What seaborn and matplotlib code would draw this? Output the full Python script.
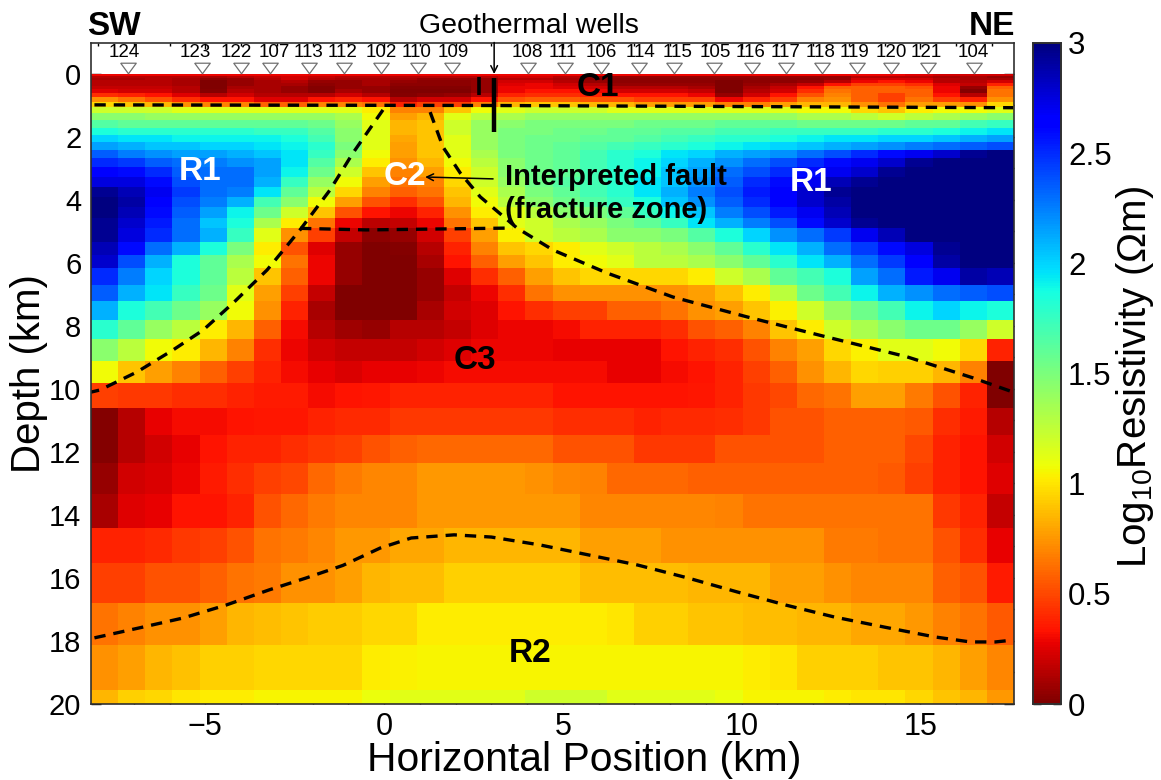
import matplotlib
matplotlib.use("Agg")
import matplotlib.pyplot as plt
from matplotlib.ticker import MultipleLocator, ScalarFormatter
from matplotlib.transforms import Affine2D
import seaborn as sns
import numpy as np
import pandas as pd

# depth of the model cell edges (km)
depth_edges = [0, .06, .13, .19, .29, .38, .48, .60, .73, .89, 1.05, 1.24, 1.46, 1.71, 1.94,
               2.16, 2.41, 2.67, 2.95, 3.27, 3.59, 3.90, 4.22, 4.57, 4.89, 5.33, 5.75, 6.16,
               6.70, 7.21, 7.81, 8.41, 9.11, 9.81, 10.60, 11.46, 12.35, 13.33, 14.41, 15.52,
               16.79, 18.13, 19.56, 20]
x_left = -8.196
x_right = 17.62

# log10 resistivity, one row per depth cell, 34 columns from SW to NE
log_res = [
    [.29]*30 + [.25, .22, .22, .22],
    [.15, .15, .15, .15, .11, .15, .18, .22, .18, .15, .15, .15, .15, .15, .15, .22, .22, .15, .07, .07, .07, .07, .07, .07, .07, .07, .07, .07, .15, .15, .15, .11, .11, .07],
    [.11, .11, .15, .11, .04, .07, .15, .22, .15, .11, .11, .11, .07, .07, .07, .15, .15, .11, .04, .04, .04, .04, .04, .04, .04, .04, .04, .07, .22, .22, .22, .15, .11, .11],
    [.15, .15, .15, .11, 0, .07, .11, .15, .07, .07, .11, .07, .04, .04, .07, .22, .22, .15, .07, .04, .04, .04, .04, 0, .04, .04, .07, .15, .29, .33, .29, .15, .15, .22],
    [.15, .15, .15, .11, 0, .07, .11, .11, .04, .07, .11, .04, .04, .04, .07, .25, .29, .22, .15, .07, .07, .07, .07, 0, .07, .11, .18, .33, .48, .48, .42, .25, .18, .38],
    [.18, .18, .18, .15, 0, .11, .11, .07, .02, .07, .07, .02, .02, .02, .07, .29, .29, .25, .22, .15, .15, .15, .11, 0, .11, .18, .33, .58, .58, .58, .53, .29, .07, .58],
    [.25, .22, .22, .15, .02, .15, .11, .07, .02, .11, .07, 0, 0, 0, .07, .29, .33, .33, .29, .22, .22, .22, .18, 0, .15, .22, .42, .64, .58, .58, .58, .29, .02, .64],
    [.42, .38, .33, .25, .15, .22, .15, .15, .15, .22, .15, .02, .04, .07, .15, .38, .42, .42, .38, .33, .33, .33, .29, .07, .22, .33, .53, .68, .58, .48, .58, .33, .15, .64],
    [.73, .64, .53, .42, .33, .33, .25, .25, .33, .38, .33, .15, .22, .22, .33, .53, .58, .58, .53, .53, .48, .48, .48, .29, .38, .48, .68, .73, .58, .48, .64, .48, .38, .73],
    [.96, .9, .85, .73, .68, .68, .58, .58, .68, .68, .64, .38, .48, .48, .68, .85, .9, .9, .85, .85, .78, .78, .78, .68, .68, .78, .85, .85, .73, .64, .78, .78, .73, .96],
    [1.2, 1.2, 1.2, 1.13, 1.13, 1.13, 1.13, 1.13, 1.13, 1.13, 1.02, .68, .68, .9, 1.07, 1.13, 1.2, 1.2, 1.2, 1.13, 1.13, 1.13, 1.13, 1.13, 1.13, 1.13, 1.07, 1.07, .96, .9, 1.02, 1.07, 1.07, 1.13],
    [1.45, 1.45, 1.4, 1.4, 1.4, 1.4, 1.4, 1.4, 1.4, 1.33, 1.07, .78, .85, 1.13, 1.27, 1.33, 1.4, 1.4, 1.4, 1.4, 1.4, 1.4, 1.4, 1.4, 1.4, 1.4, 1.33, 1.33, 1.27, 1.2, 1.27, 1.33, 1.4, 1.45],
    [1.65, 1.6, 1.6, 1.6, 1.6, 1.6, 1.6, 1.6, 1.55, 1.4, 1.13, .85, .9, 1.2, 1.4, 1.45, 1.5, 1.5, 1.5, 1.5, 1.55, 1.55, 1.55, 1.6, 1.6, 1.6, 1.55, 1.55, 1.55, 1.55, 1.6, 1.6, 1.7, 1.75],
    [1.85, 1.8, 1.8, 1.8, 1.8, 1.8, 1.75, 1.75, 1.65, 1.45, 1.13, .85, .9, 1.2, 1.4, 1.5, 1.5, 1.55, 1.55, 1.6, 1.6, 1.65, 1.65, 1.7, 1.7, 1.75, 1.75, 1.75, 1.75, 1.8, 1.8, 1.85, 1.9, 1.95],
    [2.0, 1.95, 1.95, 1.9, 1.9, 1.9, 1.9, 1.85, 1.7, 1.45, 1.13, .8, .9, 1.13, 1.4, 1.5, 1.55, 1.55, 1.6, 1.6, 1.65, 1.7, 1.75, 1.8, 1.8, 1.85, 1.9, 1.95, 1.95, 2.0, 2.0, 2.05, 2.1, 2.15],
    [2.15, 2.1, 2.05, 2.05, 2.0, 2.0, 1.95, 1.9, 1.8, 1.5, 1.13, .78, .9, 1.13, 1.4, 1.5, 1.55, 1.6, 1.65, 1.7, 1.75, 1.8, 1.85, 1.9, 1.95, 2.0, 2.05, 2.1, 2.15, 2.2, 2.25, 2.3, 2.35, 2.4],
    [2.35, 2.25, 2.2, 2.15, 2.15, 2.1, 2.05, 1.95, 1.75, 1.45, 1.07, .78, .9, 1.13, 1.33, 1.5, 1.55, 1.6, 1.7, 1.8, 1.85, 1.95, 2.0, 2.1, 2.15, 2.2, 2.3, 2.4, 2.5, 2.6, 2.7, 2.8, 2.95, 3],
    [2.5, 2.45, 2.35, 2.3, 2.25, 2.2, 2.15, 1.95, 1.65, 1.33, 1.02, .73, .85, 1.07, 1.27, 1.45, 1.55, 1.6, 1.7, 1.8, 1.9, 2.0, 2.1, 2.2, 2.3, 2.4, 2.5, 2.6, 2.7, 2.8, 2.95, 3, 3, 3],
    [2.65, 2.6, 2.5, 2.35, 2.3, 2.3, 2.15, 1.9, 1.55, 1.2, .9, .68, .78, 1.02, 1.2, 1.45, 1.55, 1.6, 1.7, 1.8, 1.9, 2.05, 2.15, 2.3, 2.4, 2.5, 2.6, 2.7, 2.8, 2.95, 3, 3, 3, 3],
    [2.75, 2.75, 2.6, 2.4, 2.3, 2.3, 2.1, 1.75, 1.4, 1.07, .78, .64, .68, .96, 1.2, 1.4, 1.55, 1.65, 1.7, 1.8, 1.95, 2.05, 2.2, 2.35, 2.5, 2.6, 2.7, 2.85, 2.95, 3, 3, 3, 3, 3],
    [2.95, 2.85, 2.7, 2.45, 2.3, 2.25, 1.95, 1.6, 1.27, .96, .68, .58, .64, .9, 1.13, 1.33, 1.5, 1.6, 1.7, 1.8, 1.95, 2.1, 2.25, 2.4, 2.55, 2.65, 2.8, 2.95, 3, 3, 3, 3, 3, 3],
    [3, 2.9, 2.65, 2.4, 2.25, 2.1, 1.7, 1.45, 1.07, .78, .53, .42, .53, .85, 1.07, 1.27, 1.45, 1.55, 1.65, 1.75, 1.85, 2.05, 2.2, 2.35, 2.5, 2.65, 2.8, 2.9, 3, 3, 3, 3, 3, 3],
    [3, 2.85, 2.6, 2.35, 2.15, 1.9, 1.55, 1.2, .9, .53, .33, .29, .38, .73, 1.02, 1.13, 1.27, 1.45, 1.5, 1.6, 1.75, 1.9, 2.05, 2.25, 2.4, 2.55, 2.7, 2.85, 3, 3, 3, 3, 3, 3],
    [2.95, 2.8, 2.55, 2.3, 2.05, 1.85, 1.33, 1.02, .64, .29, .16, .18, .29, .64, .9, 1.13, 1.2, 1.33, 1.4, 1.5, 1.6, 1.75, 1.95, 2.1, 2.25, 2.4, 2.6, 2.8, 2.95, 3, 3, 3, 3, 3],
    [2.95, 2.75, 2.5, 2.3, 2.1, 1.75, 1.13, .73, .48, .18, .04, .07, .22, .48, .78, 1.04, 1.2, 1.27, 1.33, 1.45, 1.45, 1.5, 1.65, 1.85, 2.0, 2.2, 2.3, 2.45, 2.7, 2.85, 3, 3, 3, 3],
    [2.85, 2.6, 2.3, 2.1, 1.85, 1.5, 1.02, .53, .25, .07, 0, .02, .15, .38, .68, .9, .96, 1.02, 1.13, 1.2, 1.27, 1.33, 1.45, 1.6, 1.8, 1.95, 2.1, 2.3, 2.45, 2.6, 2.75, 2.95, 3, 3],
    [2.8, 2.4, 2.1, 1.85, 1.6, 1.33, 1.07, .64, .29, .07, 0, 0, .11, .33, .58, .78, .9, 1.02, 1.07, 1.13, 1.27, 1.27, 1.33, 1.45, 1.6, 1.8, 1.95, 2.1, 2.3, 2.45, 2.65, 2.9, 3, 3],
    [2.5, 2.25, 2.0, 1.85, 1.6, 1.27, .9, .58, .29, .07, 0, 0, .07, .25, .42, .58, .78, .9, .96, .96, .96, .96, 1.02, 1.2, 1.33, 1.6, 1.7, 1.85, 2.15, 2.3, 2.55, 2.7, 2.9, 2.85],
    [2.35, 2.1, 1.95, 1.75, 1.55, 1.13, .78, .48, .18, 0, 0, 0, .07, .18, .29, .42, .64, .73, .73, .73, .73, .73, .78, .88, 1.02, 1.27, 1.55, 1.7, 1.9, 2.1, 2.2, 2.3, 2.35, 2.4],
    [2.1, 1.85, 1.7, 1.55, 1.4, 1.07, .73, .38, .11, 0, 0, 0, .11, .22, .25, .33, .42, .48, .48, .58, .58, .64, .73, .78, .9, 1.04, 1.2, 1.4, 1.55, 1.7, 1.9, 2.0, 1.9, 1.85],
    [1.8, 1.6, 1.4, 1.27, 1.02, .85, .58, .31, .15, .09, .07, .15, .15, .18, .25, .29, .29, .31, .38, .38, .38, .42, .53, .58, .68, .9, 1.02, 1.2, 1.33, 1.45, 1.55, 1.55, 1.4, 1.2],
    [1.45, 1.27, 1.07, 1.02, .85, .68, .42, .29, .22, .18, .18, .18, .22, .25, .29, .29, .29, .27, .27, .27, .27, .33, .38, .42, .53, .68, .78, .96, 1.04, 1.13, 1.13, 1.07, .96, .38],
    [1.07, .9, .78, .68, .58, .48, .38, .31, .27, .24, .27, .27, .29, .31, .31, .31, .31, .31, .31, .27, .27, .31, .33, .38, .48, .58, .73, .85, .96, .93, .93, .85, .68, 0],
    [.48, .45, .45, .42, .42, .38, .36, .36, .31, .33, .34, .38, .38, .38, .38, .38, .38, .33, .33, .33, .33, .33, .35, .38, .45, .5, .6, .64, .78, .78, .66, .53, .38, 0],
    [.02, .15, .27, .31, .31, .33, .34, .34, .38, .4, .4, .45, .45, .45, .45, .45, .45, .42, .42, .42, .38, .4, .4, .42, .45, .53, .53, .58, .58, .58, .56, .42, .36, .15],
    [.02, .15, .22, .27, .33, .38, .38, .42, .45, .48, .53, .58, .6, .6, .6, .6, .6, .53, .53, .53, .45, .45, .45, .53, .53, .53, .53, .58, .58, .58, .5, .38, .33, .22],
    [.07, .22, .24, .29, .36, .42, .48, .5, .6, .66, .7, .7, .76, .76, .76, .76, .73, .7, .68, .6, .6, .6, .58, .58, .58, .58, .58, .58, .58, .56, .48, .38, .33, .25],
    [.11, .25, .27, .33, .33, .38, .53, .6, .66, .7, .7, .7, .76, .76, .76, .76, .76, .76, .7, .7, .7, .7, .7, .68, .64, .64, .64, .64, .64, .64, .64, .45, .38, .18],
    [.38, .38, .4, .45, .48, .53, .64, .66, .7, .76, .76, .8, .8, .85, .85, .85, .85, .85, .78, .78, .78, .73, .73, .73, .73, .73, .73, .66, .66, .64, .64, .53, .42, .27],
    [.48, .48, .53, .53, .58, .64, .66, .73, .73, .78, .85, .87, .87, .93, .93, .93, .93, .93, .87, .87, .87, .87, .85, .85, .85, .78, .78, .73, .7, .7, .7, .58, .53, .36],
    [.64, .68, .73, .73, .78, .85, .87, .9, .92, .92, .96, .96, 1.02, 1.02, 1.02, 1.02, 1.02, 1.02, 1.02, 1.0, .93, .93, .9, .9, .87, .87, .85, .85, .8, .8, .76, .68, .64, .56],
    [.73, .78, .85, .88, .93, .93, .96, .96, .96, .96, 1.02, 1.04, 1.05, 1.05, 1.05, 1.05, 1.05, 1.05, 1.05, 1.05, 1.05, 1.05, 1.05, 1.05, 1.02, 1.0, .93, .93, .93, .9, .9, .85, .78, .7],
    [.85, .93, .96, 1.0, 1.02, 1.02, 1.05, 1.05, 1.05, 1.05, 1.09, 1.13, 1.13, 1.13, 1.13, 1.13, 1.2, 1.2, 1.2, 1.13, 1.13, 1.13, 1.13, 1.1, 1.05, 1.05, 1.05, 1.02, 1.0, 1.0, .96, .9, .85, .76],
]

# stations
station_names = ["124", "123", "122", "107", "113", "112", "102", "110", "109", "108", "111",
                 "106", "114", "115", "105", "116", "117", "118", "119", "120", "121", "104"]
station_x = [-7.16, -5.09, -3.99, -3.19, -2.10, -1.12, -0.08, 0.95, 1.90, 4.03, 5.06,
             6.07, 7.13, 8.11, 9.23, 10.29, 11.24, 12.25, 13.22, 14.18, 15.22, 16.50]
label_x = [-7.27, -5.29, -4.14, -3.08, -2.10, -1.17, -0.08, 0.90, 1.93, 4.0, 5.0,
           6.07, 7.16, 8.22, 9.26, 10.24, 11.24, 12.22, 13.17, 14.18, 15.16, 16.48]

# interpreted boundaries
top_x = [-8.1, 3.0, 17.6]
top_z = [0.98, 1.0, 1.07]
left_fault_x = [-0.03, -0.87, -1.51, -2.35, -3.27, -4.22, -5.06, -5.90, -6.91, -7.94, -8.2]
left_fault_z = [1.14, 2.51, 3.68, 4.95, 6.22, 7.27, 8.13, 8.76, 9.46, 10.03, 10.1]
right_fault_x = [1.29, 1.65, 2.13, 2.69, 3.72, 4.73, 6.24, 8.08, 10.15, 12.28, 14.63, 16.48, 17.6]
right_fault_z = [1.21, 2.32, 3.14, 3.90, 4.89, 5.59, 6.32, 7.08, 7.71, 8.32, 8.98, 9.65, 10.1]
c2_base_x = [-2.35, -0.5, 3.6]
c2_base_z = [4.9, 4.95, 4.89]
r2_x = [-8.1, -6.83, -5.62, -4.42, -3.22, -2.18, -1.15, -0.11, 0.76, 1.96, 3.0, 4.36, 5.73,
        7.1, 8.5, 9.87, 11.24, 12.6, 14.0, 15.4, 16.4, 17.1, 17.6]
r2_z = [17.9, 17.58, 17.27, 16.86, 16.38, 16.0, 15.6, 15.05, 14.73, 14.63, 14.7, 14.95, 15.27,
        15.59, 16.0, 16.44, 16.86, 17.24, 17.56, 17.87, 18.03, 18.03, 17.97]

sns.set_theme(style="white")
plt.rcParams["font.family"] = ["Liberation Sans", "DejaVu Sans"]
plt.rcParams["mathtext.fontset"] = "custom"
plt.rcParams["mathtext.rm"] = "Liberation Sans"
plt.rcParams["text.color"] = "black"

W, H = 1161, 780
fig = plt.figure(figsize=(W / 100, H / 100), dpi=100)
ax = fig.add_axes([91 / W, 1 - 704 / H, (1014 - 91) / W, (704 - 43) / H])
cax = fig.add_axes([1033 / W, 1 - 704 / H, 28 / W, (704 - 43) / H])

# the cells are not evenly spaced in depth, so look them up on a fine depth grid
dz = 0.02
fine_z = np.arange(dz / 2, 20, dz)
rows = np.searchsorted(depth_edges, fine_z) - 1
grid = pd.DataFrame(np.array(log_res)[rows])

sns.heatmap(grid, ax=ax, cbar_ax=cax, cmap="jet_r", vmin=0, vmax=3,
            xticklabels=False, yticklabels=False, cbar_kws={"ticks": [0, .5, 1, 1.5, 2, 2.5, 3]})
dx = (x_right - x_left) / grid.shape[1]
ax.collections[0].set_transform(Affine2D().scale(dx, dz).translate(x_left, 0) + ax.transData)

ax.set_xlim(x_left, x_right)
ax.set_ylim(20, -0.984)
ax.set_xticks([-5, 0, 5, 10, 15])
ax.set_yticks(range(0, 21, 2))
ax.xaxis.set_major_formatter(ScalarFormatter())
ax.yaxis.set_major_formatter(ScalarFormatter())
ax.xaxis.set_minor_locator(MultipleLocator(1))
ax.yaxis.set_minor_locator(MultipleLocator(1))
ax.tick_params(which="both", direction="in", top=True, right=True, bottom=True, left=True,
               color="black", width=1)
ax.tick_params(axis="y", which="major", length=7, labelsize=21, pad=7, labelcolor="black")
ax.tick_params(axis="y", which="minor", length=3.5)
ax.tick_params(axis="x", which="major", length=4.5, labelsize=22, pad=6, labelcolor="black")
ax.tick_params(axis="x", which="minor", length=2.5)
for s in ax.spines.values():
    s.set_visible(True)
    s.set_color("#303030")
    s.set_linewidth(1.2)
ax.set_xlabel("Horizontal Position (km)", fontsize=29.4, color="black", va="center")
ax.xaxis.set_label_coords(0.534, -0.085)
ax.set_ylabel("Depth (km)", fontsize=29, color="black", va="center")
ax.yaxis.set_label_coords(-0.067, 0.5)

# dashed interpretation lines
for xs, zs in [(top_x, top_z), (left_fault_x, left_fault_z), (right_fault_x, right_fault_z),
               (c2_base_x, c2_base_z), (r2_x, r2_z)]:
    sns.lineplot(x=xs, y=zs, sort=False, estimator=None, color="black", linewidth=2.4,
                 linestyle=(0, (3.4, 2.4)), ax=ax, legend=False)

# stations
sns.scatterplot(x=station_x, y=[-0.2] * len(station_x),
                marker=[(-1, .68), (1, .68), (0, -.68), (-1, .68)], s=125,
                facecolor="white", edgecolor="#707070", linewidth=0.9, ax=ax, legend=False, zorder=5)
for name, lx in zip(station_names, label_x):
    ax.text(lx, -0.68, name, ha="center", va="center", fontsize=13.5, color="black")

# wells
ax.plot([3.08, 3.08], [0.13, 1.84], color="black", lw=3.2, solid_capstyle="butt")
ax.plot([2.66, 2.66], [0.1, 0.67], color="black", lw=2.6, solid_capstyle="butt")
ax.annotate("", xy=(3.08, 0), xytext=(3.08, -1.0),
            arrowprops=dict(arrowstyle="->", color="black", lw=1.1, shrinkA=0, shrinkB=0))
ax.text(4.06, -1.52, "Geothermal wells", ha="center", va="center", fontsize=20.5, color="black", clip_on=False)

# labels
ax.text(-8.31, -1.02, "SW", ha="left", va="bottom", fontsize=24, fontweight="bold", color="black", clip_on=False)
ax.text(17.65, -1.02, "NE", ha="right", va="bottom", fontsize=24, fontweight="bold", color="black", clip_on=False)
for tx, tz, s, c in [(-5.15, 3.11, "R1", "white"), (11.94, 3.43, "R1", "white"), (0.59, 3.24, "C2", "white"),
                     (5.99, 0.44, "C1", "black"), (2.55, 9.08, "C3", "black"), (4.08, 18.41, "R2", "black")]:
    ax.text(tx, tz, s, ha="center", va="center", fontsize=24, fontweight="bold", color=c)
ax.text(3.38, 3.27, "Interpreted fault", ha="left", va="center", fontsize=21, fontweight="bold", color="black")
ax.text(3.38, 4.32, "(fracture zone)", ha="left", va="center", fontsize=21, fontweight="bold", color="black")
ax.annotate("", xy=(1.15, 3.27), xytext=(3.05, 3.33),
            arrowprops=dict(arrowstyle="->", color="black", lw=1.1, shrinkA=0, shrinkB=0))

# colorbar
cax.set_yticklabels(["0", "0.5", "1", "1.5", "2", "2.5", "3"])
cax.tick_params(direction="in", left=True, right=True, length=6, width=1, color="black",
                labelsize=22.5, pad=5, labelcolor="black")
for s in cax.spines.values():
    s.set_visible(True)
    s.set_color("#303030")
    s.set_linewidth(1.2)
fig.text(1135 / W, 1 - 377 / H, r"Log$_{10}$Resistivity ($\Omega$m)", rotation=90, ha="center", va="center",
         fontsize=29, color="black")

fig.savefig("out.png", dpi=100)
